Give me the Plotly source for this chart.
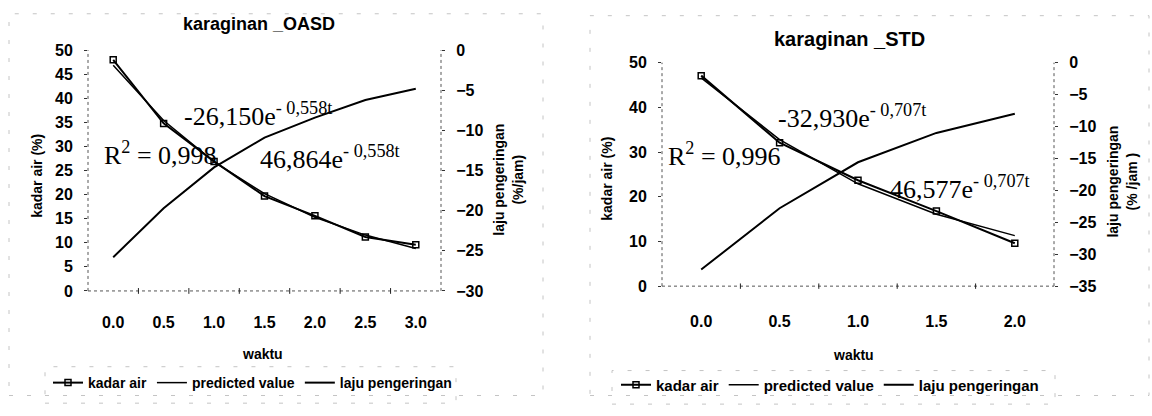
import plotly.graph_objects as go

W, H = 1152, 416

# ---------------- data ----------------
waktu_oasd = [0.0, 0.5, 1.0, 1.5, 2.0, 2.5, 3.0]
kadar_oasd = [48.0, 34.8, 26.9, 19.7, 15.6, 11.2, 9.6]
pred_oasd = [46.9, 35.4, 26.8, 20.2, 15.3, 11.6, 8.8]
laju_oasd = [-25.8, -19.7, -14.6, -10.9, -8.4, -6.2, -4.8]

waktu_std = [0.0, 0.5, 1.0, 1.5, 2.0]
kadar_std = [47.1, 32.1, 23.7, 16.8, 9.6]
pred_std = [46.6, 32.8, 22.9, 16.1, 11.3]
laju_std = [-32.4, -22.8, -15.6, -11.0, -8.0]

titles = ["karaginan _OASD", "karaginan _STD"]
legend_names = ["kadar air", "predicted value", "laju pengeringan"]
eq_laju = ["-26,150e", "-32,930e"]
eq_kadar = ["46,864e", "46,577e"]
eq_exp = ["- 0,558t", "- 0,707t"]
r2_text = ["0,998", "0,996"]

# ---------------- helpers ----------------
def px(x):
    return x / W

def py(y):
    return 1 - y / H

SANS = "Liberation Sans, Arial, sans-serif"
SERIF = "Liberation Serif, Times New Roman, serif"
tickfont = dict(family=SANS, size=16, color="black", weight="bold")

fig = go.Figure()

# left chart traces
fig.add_trace(go.Scatter(x=waktu_oasd, y=kadar_oasd, name=legend_names[0], mode="lines+markers",
                         line=dict(color="black", width=2),
                         marker=dict(symbol="square-open", size=6, color="black", line=dict(width=1.5)),
                         xaxis="x", yaxis="y", legend="legend"))
fig.add_trace(go.Scatter(x=waktu_oasd, y=pred_oasd, name=legend_names[1], mode="lines",
                         line=dict(color="black", width=1.5), xaxis="x", yaxis="y", legend="legend"))
fig.add_trace(go.Scatter(x=waktu_oasd, y=laju_oasd, name=legend_names[2], mode="lines",
                         line=dict(color="black", width=2), xaxis="x", yaxis="y2", legend="legend"))

# right chart traces
fig.add_trace(go.Scatter(x=waktu_std, y=kadar_std, name=legend_names[0], mode="lines+markers",
                         line=dict(color="black", width=2),
                         marker=dict(symbol="square-open", size=6, color="black", line=dict(width=1.5)),
                         xaxis="x2", yaxis="y3", legend="legend2"))
fig.add_trace(go.Scatter(x=waktu_std, y=pred_std, name=legend_names[1], mode="lines",
                         line=dict(color="black", width=1.5), xaxis="x2", yaxis="y3", legend="legend2"))
fig.add_trace(go.Scatter(x=waktu_std, y=laju_std, name=legend_names[2], mode="lines",
                         line=dict(color="black", width=2), xaxis="x2", yaxis="y4", legend="legend2"))

def xaxis_cfg(domain, rng, anchor, standoff):
    return dict(domain=domain, range=rng, anchor=anchor, tick0=0, dtick=0.5, tickformat=".1f",
                ticks="", showgrid=False, zeroline=False, showline=False,
                tickfont=tickfont, ticklabelstandoff=standoff)

def yaxis_cfg(domain, rng, dtick, anchor, side="left", overlaying=None):
    d = dict(domain=domain, range=rng, dtick=dtick, anchor=anchor, side=side,
             ticks="outside", ticklen=3, tickcolor="#333", tickwidth=1,
             showgrid=False, zeroline=False, showline=False, tickfont=tickfont,
             ticklabelstandoff=8)
    if overlaying:
        d["overlaying"] = overlaying
    return d

dom_x1 = [px(88), px(441)]
dom_y1 = [py(295), py(44)]
dom_x2 = [px(662), px(1054)]
dom_y2 = [py(290), py(57)]

fig.update_layout(
    width=W, height=H, margin=dict(l=0, r=0, t=0, b=0),
    paper_bgcolor="white", plot_bgcolor="white",
    xaxis=xaxis_cfg(dom_x1, [-0.25, 3.25], "y", 20),
    yaxis=yaxis_cfg(dom_y1, [0, 50], 5, "x"),
    yaxis2=yaxis_cfg(dom_y1, [-30, 0], 5, "x", side="right", overlaying="y"),
    xaxis2=xaxis_cfg(dom_x2, [-0.25, 2.25], "y3", 24),
    yaxis3=yaxis_cfg(dom_y2, [0, 50], 10, "x2"),
    yaxis4=yaxis_cfg(dom_y2, [-35, 0], 5, "x2", side="right", overlaying="y3"),
    legend=dict(orientation="h", x=px(48), y=py(391), xanchor="left", yanchor="middle",
                font=dict(family=SANS, size=14, color="black", weight="bold"),
                bgcolor="rgba(0,0,0,0)", itemwidth=30, tracegroupgap=0),
    legend2=dict(orientation="h", x=px(616), y=py(393), xanchor="left", yanchor="middle",
                 font=dict(family=SANS, size=15, color="black", weight="bold"),
                 bgcolor="rgba(0,0,0,0)", itemwidth=30, tracegroupgap=0),
    showlegend=True,
)

# axis lines (dotted, like the scanned original)
shapes = []
for xr, yr in [("x", "y"), ("x2", "y3")]:
    for x0, y0, x1, y1 in [(0, 0, 0, 1), (1, 0, 1, 1), (0, 0, 1, 0)]:
        shapes.append(dict(type="line", xref=f"{xr} domain", yref=f"{yr} domain",
                           x0=x0, y0=y0, x1=x1, y1=y1,
                           line=dict(color="#555", width=1, dash="dot"), layer="below"))
# x-axis tick marks between categories
for xr, yr, w in [("x", "y", waktu_oasd), ("x2", "y3", waktu_std)]:
    for a, b in zip(w[:-1], w[1:]):
        shapes.append(dict(type="line", xref=xr, yref=f"{yr} domain", x0=(a + b) / 2, x1=(a + b) / 2,
                           y0=-0.012, y1=0.012, line=dict(color="#222", width=1)))
# faint scan frame / legend boxes
for (x0, y0, x1, y1) in [(9, 6, 543, 404), (45, 374, 456, 412), (590, 8, 1149, 404), (612, 378, 1055, 413)]:
    shapes.append(dict(type="rect", xref="paper", yref="paper", x0=px(x0), x1=px(x1), y0=py(y1), y1=py(y0),
                       line=dict(color="#c4c4c4", width=1, dash="4px,14px"), fillcolor="rgba(0,0,0,0)",
                       layer="below"))
fig.update_layout(shapes=shapes)

ann = []
# chart titles
for t, cx, cy, fs in [(titles[0], 259, 17, 18), (titles[1], 849, 32, 20)]:
    ann.append(dict(text=t, xref="paper", yref="paper", x=px(cx), y=py(cy), showarrow=False,
                    xanchor="center", yanchor="middle",
                    font=dict(family=SANS, size=fs, color="black", weight="bold")))
# axis titles
axfont = dict(family=SANS, size=14, color="black", weight="bold")
axes_t = [
    dict(text="kadar air (%)", x=px(37), y=py(175), textangle=-90, font=axfont),
    dict(text="laju pengeringan<br>(%/jam)", x=px(508), y=py(179), textangle=-90, font=axfont),
    dict(text="waktu", x=px(262), y=py(361), font=axfont),
    dict(text="kadar air (%)", x=px(607), y=py(178), textangle=-90, font=axfont),
    dict(text="laju pengeringan<br>(% /jam )", x=px(1122), y=py(181), textangle=-90, font=axfont),
    dict(text="waktu", x=px(853), y=py(362), font=axfont),
]
for a in axes_t:
    a.update(xref="paper", yref="paper", showarrow=False, xanchor="center", yanchor="middle")
ann += axes_t

# equation annotations
eqfont = dict(family=SERIF, size=26, color="black")
eqs = [
    (eq_laju[0] + "<sup>" + eq_exp[0] + "</sup>", 182, 111),
    ("R<sup>2</sup> = " + r2_text[0], 102, 152),
    (eq_kadar[0] + "<sup>" + eq_exp[0] + "</sup>", 258, 156),
    (eq_laju[1] + "<sup>" + eq_exp[1] + "</sup>", 776, 113),
    ("R<sup>2</sup> = " + r2_text[1], 666, 153),
    (eq_kadar[1] + "<sup>" + eq_exp[1] + "</sup>", 888, 187),
]
for txt, x0, y0 in eqs:
    ann.append(dict(text=txt, xref="paper", yref="paper", x=px(x0), y=py(y0), showarrow=False,
                    xanchor="left", yanchor="middle", font=eqfont))
fig.update_layout(annotations=ann)

fig.write_html("out.html")
